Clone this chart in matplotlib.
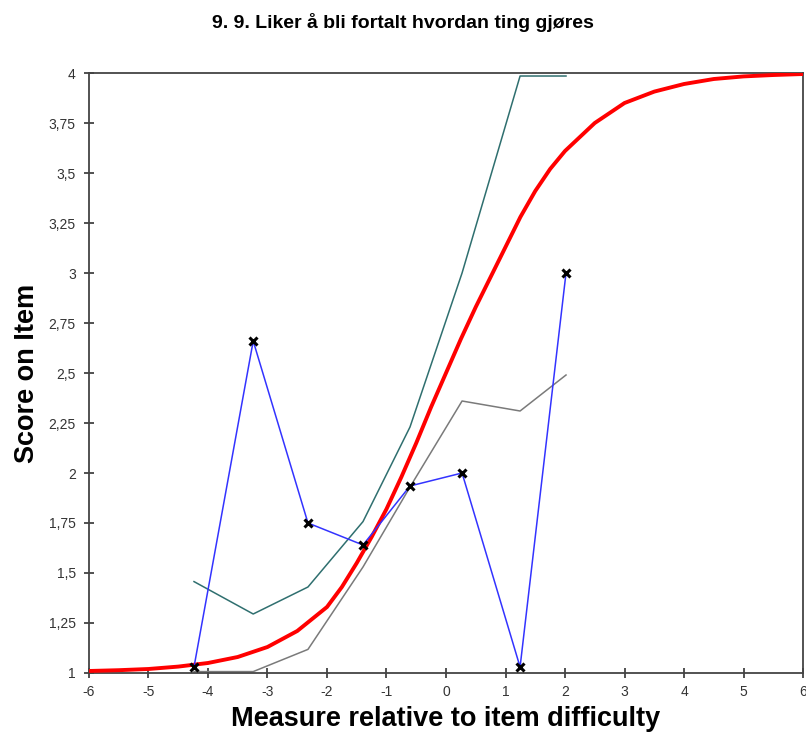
import matplotlib
matplotlib.use("Agg")
import matplotlib.pyplot as plt
from matplotlib.ticker import FixedLocator, FixedFormatter

plt.rcParams['font.family'] = ['Liberation Sans', 'DejaVu Sans']
plt.rcParams['axes.unicode_minus'] = False

# observed mean scores per class interval
obs_x = [-4.235, -3.24, -2.32, -1.395, -0.605, 0.27, 1.245, 2.017]
obs_y = [1.03, 2.66, 1.75, 1.64, 1.935, 2.0, 1.03, 3.0]

# upper and lower confidence bands
upper_y = [1.457, 1.295, 1.43, 1.757, 2.23, 3.0, 3.985, 3.985]
lower_y = [1.007, 1.007, 1.118, 1.53, 1.93, 2.36, 2.31, 2.49]

# expected score curve
curve_x = [-6, -5.5, -5, -4.5, -4, -3.5, -3, -2.5, -2, -1.75, -1.5, -1.25,
           -1, -0.75, -0.5, -0.25, 0, 0.25, 0.5, 0.75, 1, 1.25, 1.5, 1.75,
           2, 2.5, 3, 3.5, 4, 4.5, 5, 5.5, 6]
curve_y = [1.01, 1.014, 1.02, 1.032, 1.05, 1.08, 1.13, 1.21, 1.33, 1.43,
           1.55, 1.68, 1.82, 1.98, 2.15, 2.33, 2.5, 2.67, 2.83, 2.98, 3.13,
           3.28, 3.41, 3.52, 3.61, 3.75, 3.85, 3.907, 3.945, 3.97, 3.983,
           3.99, 3.995]

x_ticks = [-6, -5, -4, -3, -2, -1, 0, 1, 2, 3, 4, 5, 6]
y_ticks = [1, 1.25, 1.5, 1.75, 2, 2.25, 2.5, 2.75, 3, 3.25, 3.5, 3.75, 4]
y_labels = ["1", "1,25", "1,5", "1,75", "2", "2,25", "2,5", "2,75", "3",
            "3,25", "3,5", "3,75", "4"]

fig = plt.figure(figsize=(8.06, 7.42), dpi=100)
ax = fig.add_axes([0.1104, 0.0930, 0.8859, 0.8086])

ax.plot(obs_x, upper_y, color="#2f6f6f", linewidth=1.1, zorder=2)
ax.plot(obs_x, lower_y, color="#7a7a7a", linewidth=1.1, zorder=2)
ax.plot(curve_x, curve_y, color="#ff0000", linewidth=2.8, zorder=3)
ax.plot(obs_x, obs_y, color="#3333ff", linewidth=1.1, zorder=4)
ax.plot(obs_x, obs_y, linestyle="none", marker="x", color="black",
        markersize=6, markeredgewidth=2.2, zorder=5)

ax.set_xlim(-6, 6)
ax.set_ylim(1, 4)
ax.xaxis.set_major_locator(FixedLocator(x_ticks))
ax.yaxis.set_major_locator(FixedLocator(y_ticks))
ax.yaxis.set_major_formatter(FixedFormatter(y_labels))
ax.tick_params(axis='both', direction='inout', length=7, width=1.2,
               labelsize=10, labelcolor="#333333", color="#333333")
ax.tick_params(axis='x', pad=5)
ax.tick_params(axis='y', pad=6)
for side in ax.spines.values():
    side.set_color("#444444")
    side.set_linewidth(1.3)

ax.set_xlabel("Measure relative to item difficulty", fontsize=19.5,
              fontweight="bold", labelpad=5)
ax.set_ylabel("Score on Item", fontsize=19.5, fontweight="bold", labelpad=6)
fig.text(0.5, 0.97, "9. 9. Liker å bli fortalt hvordan ting gjøres",
         ha="center", va="center", fontsize=14, fontweight="bold")

fig.savefig("out.png", dpi=100)
